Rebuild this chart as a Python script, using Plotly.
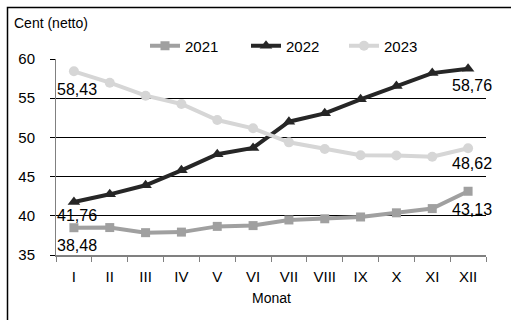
import plotly.graph_objects as go

months = ["I", "II", "III", "IV", "V", "VI", "VII", "VIII", "IX", "X", "XI", "XII"]
v2021 = [38.48, 38.50, 37.85, 37.92, 38.65, 38.75, 39.47, 39.62, 39.85, 40.38, 40.92, 43.13]
v2022 = [41.76, 42.74, 43.89, 45.80, 47.85, 48.65, 52.00, 53.07, 54.86, 56.56, 58.20, 58.76]
v2023 = [58.43, 56.98, 55.32, 54.26, 52.22, 51.16, 49.37, 48.52, 47.72, 47.70, 47.54, 48.62]
series_names = ["2021", "2022", "2023"]
y_ticks = [35, 40, 45, 50, 55, 60]

FONT = "Liberation Sans, Arial, sans-serif"

def fmt(v):
    return f"{v:.2f}".replace(".", ",")

styles = [
    dict(color="#a0a0a0", symbol="square", size=9, shifts=(-18, -18), legend="legend", lx=184),
    dict(color="#262626", symbol="triangle-up", size=11, shifts=(-13, -16.5), legend="legend2", lx=285),
    dict(color="#d6d6d6", symbol="circle", size=10, shifts=(-18, -15), legend="legend3", lx=383),
]

W, H = 511, 320
L, R, T, B = 56, 25, 59, 65
pw, ph = W - L - R, H - T - B

def px(x):
    return (x - L) / pw

def py(y):
    return (H - B - y) / ph

fig = go.Figure()
annotations = []
legends = {}
for name, vals, st in zip(series_names, [v2021, v2022, v2023], styles):
    fig.add_trace(go.Scatter(
        x=months, y=vals, name=name, mode="lines+markers",
        line=dict(color=st["color"], width=4),
        marker=dict(color=st["color"], symbol=st["symbol"], size=st["size"]),
        cliponaxis=False, legend=st["legend"],
    ))
    for idx, sh in zip((0, len(vals) - 1), st["shifts"]):
        annotations.append(dict(
            x=months[idx], y=vals[idx], xref="x", yref="y", text=fmt(vals[idx]),
            showarrow=False, xanchor="center", yanchor="middle", xshift=3.5, yshift=sh,
            font=dict(family=FONT, size=16, color="#000000"),
        ))
    legends[st["legend"]] = dict(
        orientation="h", x=px(st["lx"] - 39), y=py(46), xanchor="left", yanchor="middle",
        itemwidth=30, font=dict(family=FONT, size=15, color="#000000"), bgcolor="rgba(0,0,0,0)",
    )

annotations += [
    dict(text="Cent (netto)", x=px(12), y=py(23), xref="paper", yref="paper",
         xanchor="left", yanchor="middle", showarrow=False, font=dict(family=FONT, size=14)),
    dict(text="Monat", x=px(271), y=py(298), xref="paper", yref="paper",
         xanchor="center", yanchor="middle", showarrow=False, font=dict(family=FONT, size=14)),
]

fig.update_layout(
    width=W, height=H,
    margin=dict(l=L, r=R, t=T, b=B),
    paper_bgcolor="white", plot_bgcolor="white",
    font=dict(family=FONT, size=15, color="#000000"),
    showlegend=True,
    xaxis=dict(type="category", showgrid=False, showline=True, linecolor="#808080", linewidth=1.5,
               ticks="outside", ticklen=5, tickcolor="#808080", tickson="boundaries",
               tickfont=dict(family=FONT, size=15), range=[-0.5, 11.5], fixedrange=True,
               ticklabelstandoff=7),
    yaxis=dict(range=[35, 60], tickvals=y_ticks, showgrid=True, gridcolor="#000000", gridwidth=1,
               showline=True, linecolor="#808080", linewidth=1, ticks="outside", ticklen=5,
               tickcolor="#000000", tickfont=dict(family=FONT, size=15), zeroline=False,
               ticklabelstandoff=12),
    annotations=annotations,
    shapes=[dict(type="rect", xref="paper", yref="paper", x0=px(7.5), y0=py(325), x1=px(520), y1=py(7.5),
                 line=dict(color="#000000", width=1.5), layer="below")],
    **legends,
)

fig.write_html("out.html")
